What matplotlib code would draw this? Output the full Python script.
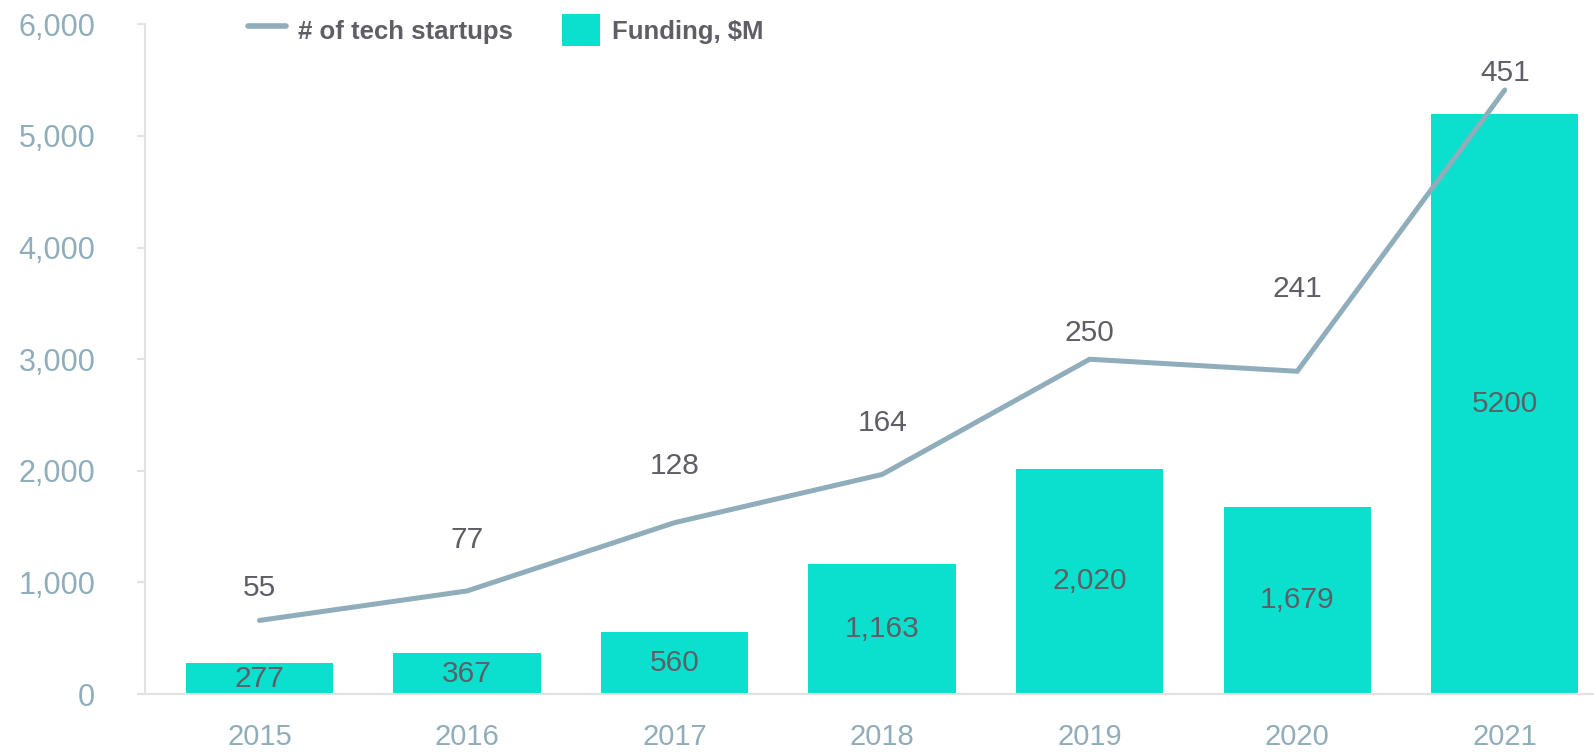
import numpy as np
import matplotlib
matplotlib.use("Agg")
import matplotlib.pyplot as plt
from matplotlib.lines import Line2D
from matplotlib.patches import Patch

years = ["2015", "2016", "2017", "2018", "2019", "2020", "2021"]
funding = [277, 367, 560, 1163, 2020, 1679, 5200]
funding_labels = ["277", "367", "560", "1,163", "2,020", "1,679", "5200"]
startups = [55, 77, 128, 164, 250, 241, 451]

# vertical offset of the startup labels (centre above point), in points
startup_label_dy = [23, 37, 41, 37, 19, 59, 12]

BAR = "#0ae0cd"
LINE = "#8fadba"
TICK = "#8fadba"
TXT = "#5e5f66"
GRID = "#e2e2e2"

plt.rcParams["font.family"] = ["Liberation Sans", "DejaVu Sans"]

fig = plt.figure(figsize=(15.94, 7.52), dpi=100)
ax = fig.add_axes([0.0912, 0.077, 0.9088, 0.8906])

x = np.arange(len(years))
ax.bar(x, funding, width=0.71, color=BAR, zorder=2)
for xi, v, lab in zip(x, funding, funding_labels):
    ax.text(xi, v / 2, lab, ha="center", va="center", fontsize=21.5, color=TXT, zorder=5)

ax.set_xlim(-0.55, len(years) - 1 + 0.43)
ax.set_ylim(0, 6000)
ax.set_yticks(range(0, 6001, 1000))
ax.set_yticklabels([f"{v:,}" for v in range(0, 6001, 1000)])
ax.set_xticks(x)
ax.set_xticklabels(years)

for s in ["top", "right"]:
    ax.spines[s].set_visible(False)
for s in ["left", "bottom"]:
    ax.spines[s].set_color(GRID)
    ax.spines[s].set_linewidth(1.5)
ax.tick_params(axis="y", length=6, width=1.5, color=GRID, pad=30, labelsize=22, labelcolor=TICK)
ax.tick_params(axis="x", length=0, pad=21, labelsize=21, labelcolor=TICK)

ax2 = ax.twinx()
ax2.set_ylim(0, 500)
ax2.axis("off")
ax2.plot(x, startups, color=LINE, lw=3.6, solid_capstyle="round", solid_joinstyle="miter", zorder=3)
for xi, v, dy in zip(x, startups, startup_label_dy):
    ax2.annotate(str(v), (xi, v), xytext=(0, dy), textcoords="offset points",
                 ha="center", va="center", fontsize=21.5, color=TXT)

handles = [Line2D([0], [0], color=LINE, lw=4, solid_capstyle="round"),
           Patch(facecolor=BAR, edgecolor="none")]
leg = fig.legend(handles, ["# of tech startups", "Funding, $M"], loc="center left",
                 bbox_to_anchor=(0.141, 0.96), ncol=2, frameon=False,
                 prop={"size": 18.5, "weight": "bold"}, handlelength=1.5, handleheight=1.5,
                 handletextpad=0.45, columnspacing=1.9)
for t in leg.get_texts():
    t.set_color(TXT)

fig.savefig("out.png", dpi=100)
